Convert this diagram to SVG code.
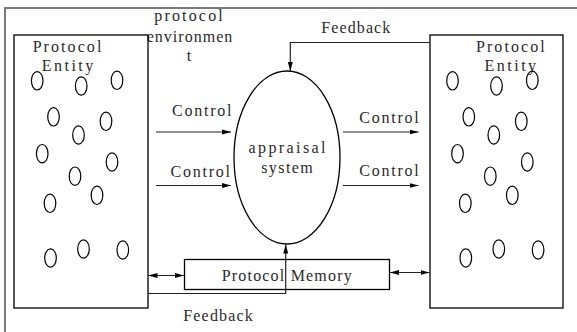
<svg xmlns="http://www.w3.org/2000/svg" width="577" height="332" viewBox="0 0 577 332">
<style>
text{font-family:"Liberation Serif","DejaVu Serif",serif;font-size:16px;fill:#2a2a2a;text-anchor:middle}
.box{fill:none;stroke:#000;stroke-width:1.3}
.c{fill:none;stroke:#000;stroke-width:1.2}
.ln{fill:none;stroke:#222;stroke-width:1.2}
.frame{fill:none;stroke:#7a7a7a;stroke-width:2}
</style>
<defs>
<marker id="ah" markerWidth="9" markerHeight="6" refX="9" refY="3" orient="auto" markerUnits="userSpaceOnUse">
<path d="M0,0.5 L9,3 L0,5.5 Z" fill="#000"/>
</marker>
<marker id="ahs" markerWidth="9" markerHeight="6" refX="0" refY="3" orient="auto" markerUnits="userSpaceOnUse">
<path d="M9,0.5 L0,3 L9,5.5 Z" fill="#000"/>
</marker>
<g id="circles">
<ellipse class="c" cx="37.2" cy="80.8" rx="5.8" ry="9.2"/>
<ellipse class="c" cx="81.2" cy="86" rx="5.8" ry="9.2"/>
<ellipse class="c" cx="117" cy="80.3" rx="5.8" ry="9.2"/>
<ellipse class="c" cx="53.5" cy="116.8" rx="5.8" ry="9.2"/>
<ellipse class="c" cx="106" cy="121.3" rx="5.8" ry="9.2"/>
<ellipse class="c" cx="78.5" cy="135" rx="5.8" ry="9.2"/>
<ellipse class="c" cx="42.2" cy="153.7" rx="5.8" ry="9.2"/>
<ellipse class="c" cx="112" cy="162" rx="5.8" ry="9.2"/>
<ellipse class="c" cx="75" cy="176.2" rx="5.8" ry="9.2"/>
<ellipse class="c" cx="97" cy="195.3" rx="5.8" ry="9.2"/>
<ellipse class="c" cx="50" cy="203.3" rx="5.8" ry="9.2"/>
<ellipse class="c" cx="50.5" cy="258" rx="5.8" ry="9.2"/>
<ellipse class="c" cx="83.5" cy="249" rx="5.8" ry="9.2"/>
<ellipse class="c" cx="122.8" cy="250" rx="5.8" ry="9.2"/>
</g>
</defs>

<g id="frame">
<path class="frame" d="M577,8 H5 V332"/>
</g>

<text x="188.5" y="20.5" textLength="68.5" lengthAdjust="spacing">protocol</text>
<text x="189.5" y="41.5" textLength="85.6" lengthAdjust="spacing">environmen</text>
<text x="189" y="60.5">t</text>

<g id="left-entity">
<rect class="box" x="14" y="35" width="134" height="273"/>
<text x="67" y="51.5" textLength="68.7" lengthAdjust="spacing">Protocol</text>
<text x="67.5" y="71" textLength="51.6" lengthAdjust="spacing">Entity</text>
<use href="#circles"/>
</g>

<g id="right-entity">
<rect class="box" x="430" y="35" width="133" height="273"/>
<text x="510.3" y="51.5" textLength="68.7" lengthAdjust="spacing">Protocol</text>
<text x="510.3" y="71" textLength="51.6" lengthAdjust="spacing">Entity</text>
<use href="#circles" transform="translate(415.3,0)"/>
</g>

<g id="appraisal">
<ellipse class="box" cx="287" cy="157.5" rx="53" ry="86.5"/>
<text x="287" y="153" textLength="77" lengthAdjust="spacing">appraisal</text>
<text x="287" y="173" textLength="51.6" lengthAdjust="spacing">system</text>
</g>

<g id="memory">
<rect class="box" x="184.5" y="259.5" width="205" height="30"/>
<text x="286.7" y="280.7" textLength="130" lengthAdjust="spacing">Protocol Memory</text>
</g>

<g id="connectors">
<path class="ln" d="M430,42.5 H290.3 V71" marker-end="url(#ah)"/>
<text x="355.8" y="33" textLength="69" lengthAdjust="spacing">Feedback</text>
<line class="ln" x1="156" y1="132" x2="231" y2="132" stroke="#555" marker-end="url(#ah)"/>
<text x="201.7" y="116" textLength="59.5" lengthAdjust="spacing">Control</text>
<line class="ln" x1="156" y1="185.5" x2="231" y2="185.5" marker-end="url(#ah)"/>
<text x="200.3" y="176.5" textLength="59.5" lengthAdjust="spacing">Control</text>
<line class="ln" x1="343" y1="132" x2="418.5" y2="132" marker-end="url(#ah)"/>
<text x="389" y="122.5" textLength="59.5" lengthAdjust="spacing">Control</text>
<line class="ln" x1="343" y1="185.5" x2="418.5" y2="185.5" marker-end="url(#ah)"/>
<text x="389" y="175.8" textLength="59.5" lengthAdjust="spacing">Control</text>
<line class="ln" x1="148.5" y1="275.5" x2="184" y2="275.5" marker-start="url(#ahs)" marker-end="url(#ah)"/>
<line class="ln" x1="390" y1="272.5" x2="429.5" y2="272.5" marker-start="url(#ahs)" marker-end="url(#ah)"/>
<path class="ln" d="M148,293.5 H285.7 V244.5" stroke="#555" stroke-width="1.5" marker-end="url(#ah)"/>
<text x="218" y="320.7" textLength="69.4" lengthAdjust="spacing">Feedback</text>
</g>
</svg>
